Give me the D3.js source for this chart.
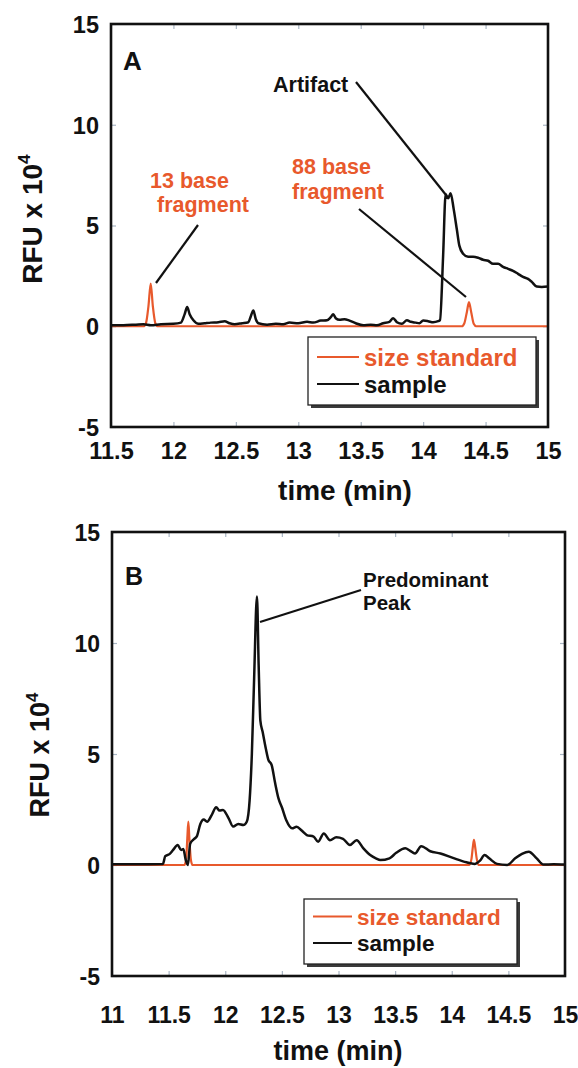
<!DOCTYPE html>
<html>
<head>
<meta charset="utf-8">
<script src="https://cdn.jsdelivr.net/npm/d3@7/dist/d3.min.js"></script>
<style>
  html, body { margin: 0; padding: 0; background: #fff; }
  svg { display: block; }
  text { font-family: "Liberation Sans", Arial, Helvetica, sans-serif; font-weight: bold; }
</style>
</head>
<body>
<svg id="chart" width="578" height="1068"></svg>
<script>
// ---------------- DATA ----------------
const xTicksA = [11.5, 12, 12.5, 13, 13.5, 14, 14.5, 15];
const xTicksB = [11, 11.5, 12, 12.5, 13, 13.5, 14, 14.5, 15];
const yTicks = [15, 10, 5, 0, -5];
const seriesNames = ["size standard", "sample"];

// Panel A: sample (black) [time (min), RFU x 10^4]
const sampleA = [
  [11.50,0.05],[11.60,0.05],[11.70,0.08],[11.76,0.10],[11.82,0.05],[11.90,0.10],[12.00,0.12],
  [12.06,0.18],[12.09,0.60],[12.11,0.95],[12.13,0.60],[12.16,0.30],[12.20,0.12],[12.25,0.15],
  [12.30,0.18],[12.36,0.20],[12.41,0.25],[12.45,0.15],[12.49,0.10],[12.55,0.15],[12.60,0.20],
  [12.62,0.50],[12.64,0.78],[12.66,0.35],[12.68,0.15],[12.75,0.08],[12.82,0.12],[12.88,0.10],
  [12.93,0.18],[13.00,0.15],[13.07,0.22],[13.12,0.18],[13.18,0.28],[13.23,0.30],[13.26,0.45],
  [13.28,0.60],[13.30,0.40],[13.33,0.32],[13.37,0.35],[13.41,0.28],[13.46,0.15],[13.52,0.05],
  [13.58,0.08],[13.63,0.05],[13.68,0.15],[13.73,0.22],[13.76,0.40],[13.79,0.20],[13.83,0.12],
  [13.87,0.30],[13.90,0.22],[13.94,0.18],[13.97,0.15],[14.00,0.28],[14.04,0.25],[14.08,0.20],
  [14.12,0.25],[14.135,0.30],[14.16,3.50],[14.18,6.55],[14.20,6.35],[14.22,6.60],[14.245,5.80],
  [14.27,4.80],[14.29,4.00],[14.32,3.60],[14.36,3.45],[14.40,3.45],[14.44,3.40],[14.48,3.30],
  [14.52,3.25],[14.56,3.10],[14.60,3.10],[14.64,2.95],[14.68,2.85],[14.72,2.75],[14.76,2.60],
  [14.80,2.45],[14.84,2.35],[14.87,2.20],[14.91,1.97],[14.95,1.95],[15.00,1.97]
];
// Panel A: size standard (orange)
const standardA = [
  [11.50,0],[11.76,0],[11.78,0.15],[11.80,1.00],[11.818,2.12],[11.835,1.00],[11.855,0.15],[11.875,0],
  [14.31,0],[14.33,0.15],[14.35,0.70],[14.367,1.20],[14.385,0.70],[14.405,0.12],[14.425,0],[15.00,0]
];
// Panel B: sample (black)
const sampleB = [
  [11.00,0.03],[11.20,0.03],[11.45,0.05],[11.47,0.40],[11.51,0.50],[11.54,0.68],[11.58,0.90],
  [11.61,0.68],[11.63,0.72],[11.65,0.25],[11.67,0.00],[11.69,0.95],[11.72,1.15],[11.75,1.30],
  [11.78,1.85],[11.81,2.05],[11.84,1.95],[11.88,2.25],[11.92,2.60],[11.95,2.45],[11.98,2.48],
  [12.03,2.10],[12.07,1.73],[12.115,1.85],[12.16,1.80],[12.19,1.95],[12.215,2.90],[12.235,5.00],
  [12.255,8.40],[12.28,12.10],[12.295,9.00],[12.31,6.50],[12.33,6.00],[12.36,5.20],[12.38,4.75],
  [12.41,4.50],[12.44,3.70],[12.47,3.00],[12.50,2.60],[12.54,2.00],[12.59,1.65],[12.63,1.72],
  [12.675,1.55],[12.72,1.35],[12.78,1.28],[12.82,1.05],[12.87,1.42],[12.925,1.12],[12.98,1.25],
  [13.04,1.18],[13.10,0.90],[13.16,1.12],[13.22,0.75],[13.28,0.45],[13.33,0.30],[13.37,0.22],
  [13.45,0.30],[13.51,0.55],[13.59,0.75],[13.63,0.65],[13.675,0.52],[13.73,0.85],[13.81,0.62],
  [13.90,0.52],[14.01,0.32],[14.13,0.12],[14.20,0.05],[14.25,0.20],[14.29,0.45],[14.33,0.30],
  [14.40,0.05],[14.49,0.00],[14.56,0.30],[14.62,0.50],[14.68,0.60],[14.75,0.30],[14.81,0.02],
  [14.90,0.03],[15.00,0.02]
];
// Panel B: size standard (orange)
const standardB = [
  [11.00,0],[11.64,0],[11.655,0.30],[11.665,1.20],[11.674,1.95],[11.683,1.20],[11.695,0.30],[11.71,0],
  [14.155,0],[14.175,0.30],[14.186,0.80],[14.196,1.13],[14.207,0.80],[14.22,0.30],[14.235,0],[15.00,0]
];

// ---------------- STYLE ----------------
const ORANGE = "#E8592C";
const BLACK = "#111";
const TICKCOL = "#a9b6c4";

const svg = d3.select("#chart");

function drawPanel(cfg) {
  const x = d3.scaleLinear().domain(cfg.xDomain).range([cfg.left, cfg.right]);
  const y = d3.scaleLinear().domain([-5, 15]).range([cfg.bottom, cfg.top]);
  const g = svg.append("g");

  // inward minor tick marks on all four sides
  const tickSpecs = [
    [d3.axisBottom(x).tickValues(cfg.xTicks), `translate(0,${cfg.bottom})`],
    [d3.axisTop(x).tickValues(cfg.xTicks), `translate(0,${cfg.top})`],
    [d3.axisLeft(y).tickValues(yTicks), `translate(${cfg.left},0)`],
    [d3.axisRight(y).tickValues(yTicks), `translate(${cfg.right},0)`]
  ];
  tickSpecs.forEach(([ax, tr]) => {
    const t = g.append("g").attr("transform", tr)
      .call(ax.tickSize(-5).tickFormat(""));
    t.select(".domain").remove();
    t.selectAll("line").attr("stroke", TICKCOL).attr("stroke-width", 1.2);
  });

  // tick labels
  const xl = g.append("g").attr("transform", `translate(0,${cfg.bottom})`)
    .call(d3.axisBottom(x).tickValues(cfg.xTicks).tickSize(0).tickFormat(d => String(d)));
  xl.select(".domain").remove();
  xl.selectAll("text").attr("y", cfg.xLabelOffset).attr("dy", 0)
    .attr("font-size", cfg.tickFont).attr("fill", BLACK)
    .attr("font-family", null);

  const yl = g.append("g").attr("transform", `translate(${cfg.left},0)`)
    .call(d3.axisLeft(y).tickValues(yTicks).tickSize(0).tickPadding(12).tickFormat(d => String(d)));
  yl.select(".domain").remove();
  yl.selectAll("text").attr("dy", "0.36em")
    .attr("font-size", cfg.tickFont).attr("fill", BLACK)
    .attr("font-family", null);

  // data lines
  const line = d3.line().x(d => x(d[0])).y(d => y(d[1])).curve(d3.curveMonotoneX);
  g.append("path").datum(cfg.standard).attr("d", line)
    .attr("fill", "none").attr("stroke", ORANGE).attr("stroke-width", 2.2).attr("stroke-linejoin", "round");
  g.append("path").datum(cfg.sample).attr("d", line)
    .attr("fill", "none").attr("stroke", BLACK).attr("stroke-width", 2.5).attr("stroke-linejoin", "round");

  // frame
  g.append("rect").attr("x", cfg.left).attr("y", cfg.top)
    .attr("width", cfg.right - cfg.left).attr("height", cfg.bottom - cfg.top)
    .attr("fill", "none").attr("stroke", BLACK).attr("stroke-width", 2.6);

  // axis titles
  g.append("text").attr("x", cfg.xTitleX).attr("y", cfg.xTitleY)
    .attr("text-anchor", "middle").attr("font-size", cfg.titleFont).attr("fill", BLACK)
    .text("time (min)");
  const yt = g.append("text")
    .attr("transform", `translate(${cfg.yTitleX},${cfg.yTitleY}) rotate(-90)`)
    .attr("text-anchor", "middle").attr("font-size", cfg.titleFont).attr("fill", BLACK);
  yt.append("tspan").text("RFU x 10");
  yt.append("tspan").attr("font-size", cfg.titleFont * 0.62).attr("dy", -cfg.titleFont * 0.42).text("4");

  // panel letter
  g.append("text").attr("x", cfg.letterX).attr("y", cfg.letterY)
    .attr("font-size", cfg.letterFont).attr("fill", BLACK).text(cfg.letter);

  // legend
  const L = cfg.legend;
  g.append("rect").attr("x", L.x0 + 3).attr("y", L.y0 + 3)
    .attr("width", L.x1 - L.x0).attr("height", L.y1 - L.y0).attr("fill", "#3a3a3a");
  g.append("rect").attr("x", L.x0).attr("y", L.y0)
    .attr("width", L.x1 - L.x0).attr("height", L.y1 - L.y0)
    .attr("fill", "#fff").attr("stroke", "#222").attr("stroke-width", 1.3);
  const legendColors = [ORANGE, BLACK];
  seriesNames.forEach((name, i) => {
    g.append("line").attr("x1", L.lx0).attr("x2", L.lx1)
      .attr("y1", L.ly[i]).attr("y2", L.ly[i])
      .attr("stroke", legendColors[i]).attr("stroke-width", 2);
    g.append("text").attr("x", L.tx).attr("y", L.ty[i])
      .attr("font-size", L.font).attr("fill", legendColors[i]).text(name);
  });

  // annotations
  cfg.notes.forEach(n => {
    n.lines.forEach(l => {
      g.append("text").attr("x", l.x).attr("y", l.y).attr("font-size", n.font)
        .attr("fill", n.color).text(l.t);
    });
    g.append("line").attr("x1", n.leader[0]).attr("y1", n.leader[1])
      .attr("x2", n.leader[2]).attr("y2", n.leader[3])
      .attr("stroke", BLACK).attr("stroke-width", 2.2);
  });
}

drawPanel({
  xDomain: [11.5, 15], xTicks: xTicksA,
  left: 111, right: 548, top: 24, bottom: 427,
  sample: sampleA, standard: standardA,
  tickFont: 23.5, xLabelOffset: 32, titleFont: 28,
  xTitleX: 345, xTitleY: 500, yTitleX: 42, yTitleY: 219,
  letter: "A", letterX: 123, letterY: 70, letterFont: 26,
  legend: { x0: 308, x1: 536, y0: 337, y1: 405, lx0: 317, lx1: 359, ly: [357, 384],
            tx: 364, ty: [366, 393], font: 24 },
  notes: [
    { color: BLACK, font: 21.5, lines: [{ t: "Artifact", x: 273, y: 92 }], leader: [356, 82, 446, 195] },
    { color: ORANGE, font: 21.5, lines: [{ t: "13 base", x: 150, y: 188 }, { t: "fragment", x: 157, y: 212 }],
      leader: [198, 225, 156, 283] },
    { color: ORANGE, font: 21.5, lines: [{ t: "88 base", x: 292, y: 174 }, { t: "fragment", x: 292, y: 199 }],
      leader: [359, 209, 466, 297] }
  ]
});

drawPanel({
  xDomain: [11, 15], xTicks: xTicksB,
  left: 112, right: 565, top: 532, bottom: 976,
  sample: sampleB, standard: standardB,
  tickFont: 23, xLabelOffset: 47, titleFont: 27,
  xTitleX: 338, xTitleY: 1060, yTitleX: 49, yTitleY: 755,
  letter: "B", letterX: 125, letterY: 585, letterFont: 25,
  legend: { x0: 304, x1: 517, y0: 899, y1: 964, lx0: 313, lx1: 352, ly: [916.5, 943],
            tx: 357, ty: [925, 951], font: 22.5 },
  notes: [
    { color: BLACK, font: 20.5, lines: [{ t: "Predominant", x: 363, y: 587 }, { t: "Peak", x: 363, y: 610 }],
      leader: [361, 590, 260, 622] }
  ]
});
</script>
</body>
</html>
